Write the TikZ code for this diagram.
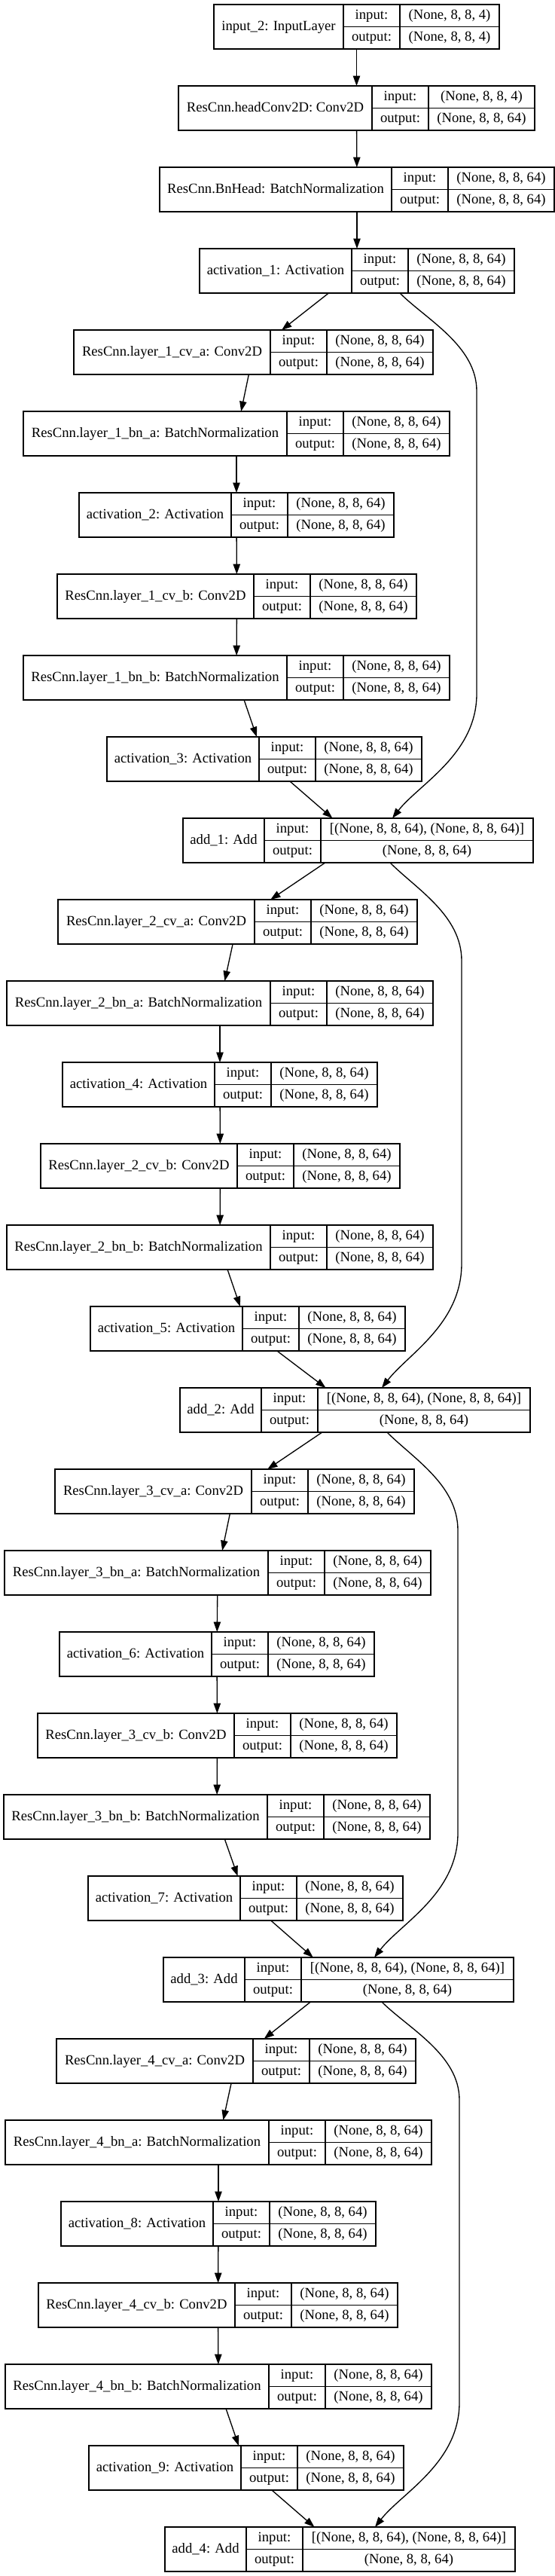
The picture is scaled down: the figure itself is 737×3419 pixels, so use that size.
\documentclass[tikz,border=0pt]{standalone}
\usepackage{fontspec}
\setmainfont{Liberation Serif}
\usetikzlibrary{arrows.meta,calc}

\newcommand{\shp}{(None, 8, 8, 64)}
% one keras layer: name, row, left x, name width, value width, label, input, output
\newcommand{\layerbox}[8]{%
	\node[layer, minimum width={(#4+75+#5)*0.75pt}] (#1) at (#3,{6+108*(#2)}) {};
	\node[cell, minimum width={#4*0.75pt}, minimum height=44.25pt] (#1-name) at (#1.north west) {#6};
	\node[cell, minimum width=56.25pt] (#1-in) at (#1-name.north east) {input:};
	\node[cell, minimum width=56.25pt] (#1-out) at (#1-in.south west) {output:};
	\node[cell, minimum width={#5*0.75pt}] (#1-vin) at (#1-in.north east) {#7};
	\node[cell, minimum width={#5*0.75pt}] (#1-vout) at (#1-vin.south west) {#8};
}

\begin{document}
\begin{tikzpicture}[>={Triangle[length=10pt,width=7pt]},x=0.75pt,y=-0.75pt,line width=1pt,
	every node/.style={font=\fontsize{14}{16}\selectfont},
	layer/.style={draw,anchor=north west,minimum height=44.25pt,inner sep=0pt,outer sep=0pt},
	cell/.style={draw,anchor=north west,minimum height=22.125pt,inner sep=0pt,outer sep=0pt,text height=10pt,text depth=3pt}]
	\useasboundingbox (0,0) rectangle (737,3419);
	% head of the net
	\layerbox{input2}{0}{284}{172}{132}{input\_2: InputLayer}{(None, 8, 8, 4)}{(None, 8, 8, 4)}
	\layerbox{head}{1}{237}{257}{141}{ResCnn.headConv2D: Conv2D}{(None, 8, 8, 4)}{\shp}
	\layerbox{bnhead}{2}{212}{308}{141}{ResCnn.BnHead: BatchNormalization}{\shp}{\shp}
	\layerbox{act1}{3}{265}{202}{141}{activation\_1: Activation}{\shp}{\shp}
	% residual blocks
	\foreach \k/\xa/\xb/\xc/\xd/\xe/\xf/\xg in {1/98/31/105/76/31/142/243,2/77/9/83/54/9/120/239,3/73/6/79/50/5/117/217,4/75/7/81/51/7/118/219}{
		\pgfmathtruncatemacro\r{4+7*(\k-1)}
		\pgfmathtruncatemacro\ma{2*\k}
		\pgfmathtruncatemacro\mb{2*\k+1}
		\layerbox{cva\k}{\r}{\xa}{261}{141}{ResCnn.layer\_\k\_cv\_a: Conv2D}{\shp}{\shp}
		\layerbox{bna\k}{\r+1}{\xb}{350}{141}{ResCnn.layer\_\k\_bn\_a: BatchNormalization}{\shp}{\shp}
		\layerbox{act\ma}{\r+2}{\xc}{202}{141}{activation\_\ma: Activation}{\shp}{\shp}
		\layerbox{cvb\k}{\r+3}{\xd}{261}{141}{ResCnn.layer\_\k\_cv\_b: Conv2D}{\shp}{\shp}
		\layerbox{bnb\k}{\r+4}{\xe}{350}{141}{ResCnn.layer\_\k\_bn\_b: BatchNormalization}{\shp}{\shp}
		\layerbox{act\mb}{\r+5}{\xf}{202}{141}{activation\_\mb: Activation}{\shp}{\shp}
		\layerbox{add\k}{\r+6}{\xg}{108}{282}{add\_\k: Add}{[\shp, \shp]}{\shp}
		\foreach \a/\b in {cva\k/bna\k,bna\k/act\ma,act\ma/cvb\k,cvb\k/bnb\k,bnb\k/act\mb,act\mb/add\k}
			\draw[->] (\a) -- (\b);
	}
	\foreach \a/\b in {input2/head,head/bnhead,bnhead/act1,act1/cva1,add1/cva2,add2/cva3,add3/cva4}
		\draw[->] (\a) -- (\b);
	% shortcut connections
	\foreach \s/\t/\ds/\vx/\ya/\yb/\dt in {act1/add1/57/633/519/921/45.5,add1/add2/42.5/613/1275/1677/35.5,add2/add3/42.5/608/2031/2433/47.5,add3/add4/57.5/610/2787/3189/46.5}
		\draw[->] ($(\s.south)+(\ds,0)$) .. controls +(35,35) and +(0,-60) .. (\vx,\ya) -- (\vx,\yb) .. controls +(0,80) and +(35,-45) .. ($(\t.north)+(\dt,0)$);
\end{tikzpicture}
\end{document}
